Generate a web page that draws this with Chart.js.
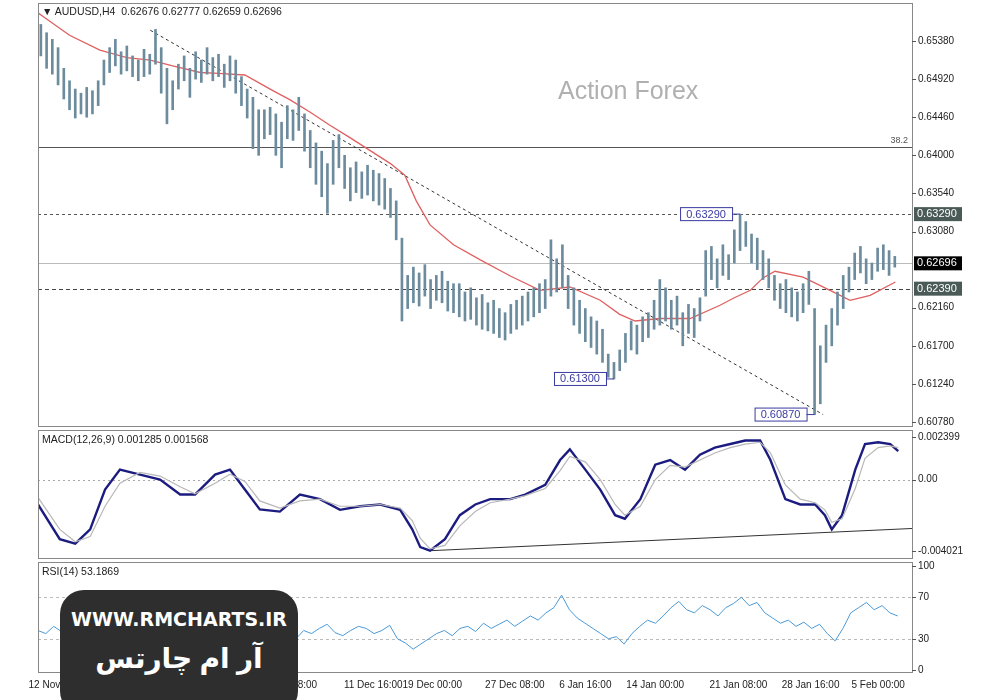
<!DOCTYPE html>
<html><head><meta charset="utf-8">
<script src="https://cdn.jsdelivr.net/npm/chart.js"></script>
<style>
body{margin:0;width:1000px;height:700px;background:#fff;position:relative;overflow:hidden;font-family:"Liberation Sans",Arial,sans-serif}
canvas{position:absolute;left:0}
.t{position:absolute;font-size:10.5px;color:#222;white-space:pre}
#wm{position:absolute;left:60px;top:590px;width:238px;height:125px;background:#2e2e2e;border-radius:24px;color:#fff;text-align:center;font-weight:bold}
</style></head><body>
<canvas id="c1" width="1000" height="430" style="top:0"></canvas>
<canvas id="c2" width="1000" height="132" style="top:428px"></canvas>
<canvas id="c3" width="1000" height="140" style="top:560px"></canvas>
<div class="t" style="left:42px;top:5px">▼ AUDUSD,H4  0.62676 0.62777 0.62659 0.62696</div>
<div class="t" style="left:42px;top:433px">MACD(12,26,9) 0.001285 0.001568</div>
<div class="t" style="left:42px;top:565px">RSI(14) 53.1869</div>
<div style="position:absolute;left:558px;top:76px;font-size:25px;color:#b0b0b0">Action Forex</div>
<div id="wm"><div style="font-size:19px;margin-top:18px;font-family:'DejaVu Sans'">WWW.RMCHARTS.IR</div><div style="font-size:28px;margin-top:8px;font-family:'Noto Sans','DejaVu Sans'" dir="rtl">آر ام چارتس</div></div>
<script>
// ---------- DATA ----------
const barHigh=[.6558,.6548,.6540,.6530,
.6505,.6490,.6480,.6475,.6482,.6478,.6490,
.6515,.6530,.6540,.6525,.6532,
.6520,.6515,.6528,.6522,.6552,
.6530,.6505,.6490,
.6510,.6520,.6505,.6525,.6515,.6530,.6518,.6522,.6510,.6520,
.6515,.6495,.6480,.6470,.6455,
.6455,.6458,.6450,.6440,.6460,.6455,.6470,
.6450,.6430,.6415,.6405,.6390,
.6418,.6425,.6400,
.6385,.6392,.6380,.6388,.6382,.6378,.6372,.6360,
.6345,.6300,
.6255,.6265,.6258,.6268,.6250,.6255,.6260,.6248,.6245,
.6245,.6235,.6240,.6228,.6232,.6222,.6225,.6215,.6210,.6220,
.6225,.6230,.6235,.6240,.6245,.6250,
.6298,.6275,.6292,
.6255,.6240,.6225,.6215,.6205,.6200,.6190,
.6160,.6150,
.6165,.6185,.6200,.6195,.6205,.6210,.6225,
.6250,.6240,
.6225,.6230,.6210,.6220,.6215,.6228,
.6285,.6290,.6275,.6292,.6280,
.6310,.6329,.6320,
.6305,.6300,.6285,.6275,
.6255,.6245,.6250,.6240,.6235,.6245,.6260,
.6215,.6170,.6195,
.6215,.6235,.6255,.6265,
.6282,.6290,.6275,.6270,.6288,.6292,.6285,.6278];
const barLow=[.6520,.6505,.6498,.6485,
.6468,.6455,.6445,.6450,.6446,.6450,.6460,
.6485,.6500,.6508,.6498,.6502,
.6495,.6490,.6495,.6498,.6510,
.6475,.6438,.6455,
.6480,.6490,.6470,.6492,.6488,.6498,.6490,.6495,.6482,.6490,
.6475,.6460,.6445,.6408,.6400,
.6420,.6425,.6400,.6385,.6420,.6418,.6430,
.6405,.6385,.6365,.6350,.6330,
.6365,.6385,.6360,
.6345,.6355,.6348,.6352,.6345,.6340,.6335,.6325,
.6298,.6200,
.6215,.6222,.6218,.6230,.6215,.6225,.6222,.6212,.6210,
.6205,.6200,.6202,.6195,.6190,.6188,.6185,.6180,.6177,.6185,
.6190,.6195,.6200,.6205,.6210,.6215,
.6230,.6235,.6240,
.6215,.6195,.6185,.6175,.6168,.6160,.6150,
.6132,.6130,
.6140,.6150,.6165,.6160,.6175,.6180,.6190,
.6195,.6200,
.6190,.6195,.6170,.6185,.6180,.6200,
.6230,.6250,.6240,.6255,.6250,
.6270,.6285,.6290,
.6270,.6262,.6250,.6240,
.6225,.6215,.6210,.6205,.6200,.6210,.6220,
.6087,.6100,.6150,
.6170,.6195,.6215,.6235,
.6250,.6258,.6245,.6250,.6260,.6262,.6255,.6265];
const maX=[-0.5,0.7,5,10.3,15,19.1,23,27.8,31,35.6,40,43.5,47,50.5,54,57.4,61,63.5,65.5,67.9,72,76.6,82,87.1,92.3,97.6,101,103.7,108,113.3,118.5,121,123.8,126,128.1,133,137.7,141.2,144.7,149.1];
const maY=[.6572,.6566,.6545,.6527,.6518,.6515,.6508,.6500,.6499,.6497,.6480,.6467,.6452,.6436,.6421,.6406,.6390,.6376,.6345,.6316,.6292,.6274,.6254,.6237,.6241,.6225,.6208,.6200,.6203,.6203,.6219,.6228,.6237,.6252,.6260,.6253,.6237,.6225,.6231,.6247];
const trendX=[19.1,136.5], trendY=[.6551,.6087];
const levels=[{v:.6410,c:'#555',d:[]},{v:.6329,c:'#555',d:[3,3]},{v:.62696,c:'#bbb',d:[]},{v:.6239,c:'#444',d:[4,3]}];
const priceTicks=[.6538,.6492,.6446,.6400,.6354,.6308,.6216,.6170,.6124,.6078];
const priceTags=[{v:.6329,t:'0.63290',bg:'#4a5a56'},{v:.62696,t:'0.62696',bg:'#000'},{v:.6239,t:'0.62390',bg:'#4a5a56'}];
const swingLabels=[{t:'0.63290',x:122,v:.6329},{t:'0.61300',x:100,v:.6130},{t:'0.60870',x:135,v:.6087}];
const macdX=[-0.5,3.3,6,8.6,11.2,13.8,17.3,20.8,24.3,26.9,30.4,33,35.6,38.2,41.7,45.2,48.7,52.2,55.7,59.2,62.7,64.8,66.2,67.9,70.5,73.1,75.8,78.4,81.9,84.5,88,90.6,92.3,95,97.6,100.2,101.9,104.6,107.2,109.8,112.4,115,117.6,120.3,122.9,125.5,127.3,129.9,132.5,135.1,136.8,138,139.8,142.1,143.8,146.1,148.2,149.6];
const macdMain=[-.0014,-.00335,-.0036,-.0028,-.00056,.00056,.00028,0,-.00084,-.00084,.00028,.00056,-.00056,-.00168,-.0018,-.00084,-.0011,-.0017,-.0015,-.0014,-.0017,-.0028,-.0038,-.0040,-.00335,-.0020,-.0014,-.0011,-.0011,-.00084,-.0003,.0011,.0017,.00056,-.00056,-.0020,-.0022,-.0011,.00084,.0011,.00056,.0014,.0018,.0020,.0022,.0022,.0011,-.0011,-.0014,-.0014,-.0020,-.0028,-.0020,.00056,.0020,.0021,.0020,.0016];
const macdSignal=[-.0010,-.0028,-.0035,-.0032,-.0015,-.0002,.0004,.0002,-.0004,-.0008,-.0002,.0003,-.0001,-.0012,-.0016,-.0012,-.0011,-.0015,-.0015,-.0014,-.0016,-.0023,-.0033,-.0039,-.0037,-.0026,-.0018,-.0013,-.0011,-.0009,-.0005,.0005,.0013,.0010,.0000,-.0014,-.0020,-.0015,.0000,.0008,.0007,.0011,.0015,.0018,.0020,.0021,.0015,-.0003,-.0011,-.0013,-.0017,-.0024,-.0022,-.0005,.0012,.0018,.0019,.0018];
const macdDivX=[67.9,152], macdDivY=[-.0040,-.00275];
const rsiVals=[38,35,42,37,40,33,36,
45,50,42,48,44,52,46,50,47,
40,45,48,43,50,46,44,49,38,35,40,42,39,45,41,37,33,30,
38,35,40,44,36,33,38,42,40,35,38,43,30,26,20,25,
30,35,38,33,40,42,37,45,40,44,48,42,47,52,48,55,60,72,
58,50,45,40,35,30,32,25,
35,42,48,45,52,60,66,58,55,62,
58,52,60,64,70,62,65,
55,50,45,48,42,46,40,44,35,
28,40,55,60,65,58,62,55,52];
const dateLabels=['12 Nov 2024','19 Nov 16:00','27 Nov 00:00','4 Dec 08:00','11 Dec 16:00','19 Dec 00:00','27 Dec 08:00','6 Jan 16:00','14 Jan 00:00','21 Jan 08:00','28 Jan 16:00','5 Feb 00:00'];
const dateIdx=[2.8,16.4,30.4,43.5,58,68.3,82.7,95,107.2,121.7,134.3,146.1];

// ---------- HELPERS ----------
const XMIN=-0.5,XMAX=152;
const FONT={family:'Liberation Sans',size:10};
function yAxis(min,max,ticks,fmt){return{position:'right',min,max,grid:{display:false,drawTicks:false},border:{display:false},
 afterFit:s=>{s.width=88;s.paddingTop=0;s.paddingBottom=0;},afterBuildTicks:s=>{s.ticks=ticks.map(v=>({value:v}))},
 ticks:{color:'#222',font:FONT,padding:6,callback:fmt}};}
const xAxis={type:'linear',min:XMIN,max:XMAX,display:false,offset:false};
const frame={id:'frame',afterDraw(c){const a=c.chartArea,g=c.ctx;g.save();g.strokeStyle='#888';g.lineWidth=1;
 g.strokeRect(a.left+0.5,a.top+0.5,a.right-a.left,a.bottom-a.top);
 const y=c.scales.y;g.strokeStyle='#555';(c.options.tickVals||[]).forEach(v=>{const p=Math.round(y.getPixelForValue(v))+0.5;g.beginPath();g.moveTo(a.right,p);g.lineTo(a.right+4,p);g.stroke();});g.restore();}};
const common={responsive:false,animation:false,events:[],plugins:{legend:{display:false},tooltip:{enabled:false}}};
function line(xs,ys,color,w,dash){return{type:'line',data:xs.map((x,i)=>({x,y:ys[i]})),borderColor:color,borderWidth:w,borderDash:dash||[],pointRadius:0,tension:0};}

// ---------- MAIN ----------
const mainOverlay={id:'mo',beforeDatasetsDraw(c){const a=c.chartArea,g=c.ctx,y=c.scales.y;g.save();
 levels.forEach(l=>{const p=Math.round(y.getPixelForValue(l.v))+0.5;g.strokeStyle=l.c;g.setLineDash(l.d);g.beginPath();g.moveTo(a.left,p);g.lineTo(a.right,p);g.stroke();});
 g.setLineDash([]);g.fillStyle='#555';g.font='9px Liberation Sans';g.textAlign='right';g.fillText('38.2',a.right-4,y.getPixelForValue(.6410)-4);g.restore();},
 afterDraw(c){const a=c.chartArea,g=c.ctx,y=c.scales.y,x=c.scales.x;g.save();g.font='11px Liberation Sans';
 priceTags.forEach(t=>{const p=y.getPixelForValue(t.v);g.fillStyle=t.bg;g.fillRect(a.right+2,p-7,48,14);g.fillStyle='#fff';g.textAlign='left';g.textBaseline='middle';g.fillText(t.t,a.right+5,p);});
 swingLabels.forEach(s=>{const px=x.getPixelForValue(s.x),py=y.getPixelForValue(s.v);const w=52,bx=px-w-8;
  g.strokeStyle='#3a3aa0';g.lineWidth=1;g.fillStyle='#fff';g.fillRect(bx,py-7,w,13);g.strokeRect(bx+0.5,py-6.5,w,13);
  g.beginPath();g.moveTo(bx+w,py);g.lineTo(px,py);g.stroke();g.fillStyle='#3a3aa0';g.textAlign='center';g.textBaseline='middle';g.fillText(s.t,bx+w/2,py+0.5);});
 g.restore();}};
new Chart(c1,{data:{datasets:[
 {type:'bar',data:barHigh.map((h,i)=>({x:i,y:[barLow[i],h]})),backgroundColor:'#6c8c9e',barThickness:2,grouped:false},
 line(maX,maY,'#e06060',1.3),
 line(trendX,trendY,'#333',1,[3,3])]},
 options:{...common,tickVals:priceTicks,layout:{padding:{left:38,top:3,bottom:4}},scales:{x:xAxis,y:yAxis(.60732,.65839,priceTicks,v=>v.toFixed(5))}},
 plugins:[mainOverlay,frame]});

// ---------- MACD ----------
const macdTicks=[.002399,0,-.004021];
const zeroLine={id:'z',beforeDatasetsDraw(c){const a=c.chartArea,g=c.ctx,p=Math.round(c.scales.y.getPixelForValue(0))+0.5;g.save();g.strokeStyle='#aaa';g.setLineDash([2,3]);g.beginPath();g.moveTo(a.left,p);g.lineTo(a.right,p);g.stroke();g.restore();}};
new Chart(c2,{data:{datasets:[line(macdX,macdSignal,'#b8b8b8',1.2),line(macdX,macdMain,'#1c1c80',2.4),line(macdDivX,macdDivY,'#333',1)]},
 options:{...common,tickVals:macdTicks,layout:{padding:{left:38,top:2,bottom:2}},scales:{x:xAxis,y:yAxis(-.00441,.00279,macdTicks,v=>v===0?'0.00':v.toFixed(6))}},
 plugins:[zeroLine,frame]});

// ---------- RSI ----------
const rsiTicks=[100,70,30,0];
const rsiStep=(149.5-XMIN)/(rsiVals.length-1);
const rsiLines={id:'r',beforeDatasetsDraw(c){const a=c.chartArea,g=c.ctx;g.save();g.strokeStyle='#bbb';g.setLineDash([3,3]);[70,30].forEach(v=>{const p=Math.round(c.scales.y.getPixelForValue(v))+0.5;g.beginPath();g.moveTo(a.left,p);g.lineTo(a.right,p);g.stroke();});g.restore();},
 afterDraw(c){const g=c.ctx,x=c.scales.x;g.save();g.fillStyle='#222';g.font='10px Liberation Sans';g.textAlign='center';g.textBaseline='middle';
 dateLabels.forEach((t,i)=>g.fillText(t,x.getPixelForValue(dateIdx[i]),c.chartArea.bottom+13));g.restore();}};
new Chart(c3,{data:{datasets:[{type:'line',data:rsiVals.map((v,i)=>({x:XMIN+i*rsiStep,y:v})),borderColor:'#4a9ad8',borderWidth:1,pointRadius:0,tension:0}]},
 options:{...common,tickVals:rsiTicks,layout:{padding:{left:38,top:2,bottom:28}},scales:{x:xAxis,y:yAxis(-2,104,rsiTicks,v=>String(v))}},
 plugins:[rsiLines,frame]});
</script></body></html>
